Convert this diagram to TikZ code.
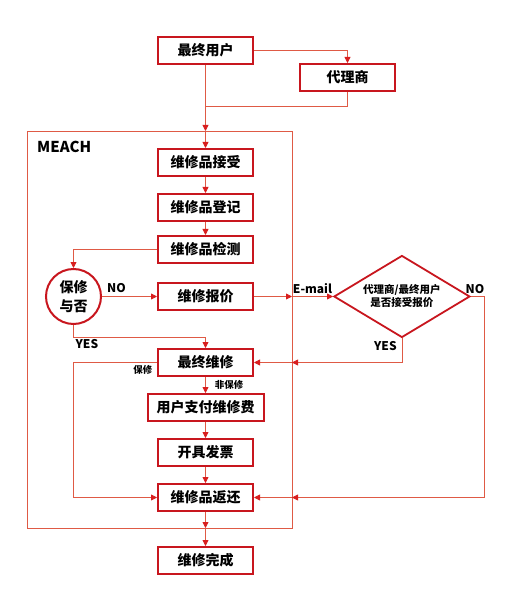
\documentclass[tikz,border=0pt]{standalone}
\usepackage{fontspec}
\setmainfont{Noto Sans CJK SC}
\usepackage{tikz}
\usetikzlibrary{arrows.meta, positioning, shapes.geometric, calc}

\definecolor{boxred}{HTML}{C8161E}
\definecolor{linered}{HTML}{DF5A45}
\definecolor{tipred}{HTML}{D81E1E}

\begin{document}
\begin{tikzpicture}[
    x=1pt, y=1pt,
    node distance=16pt,
    >={Triangle[length=6pt, width=6pt, color=tipred]},
    block/.style={
        rectangle,
        draw=boxred,
        line width=2pt,
        fill=white,
        minimum width=95pt,
        minimum height=27pt,
        inner sep=2pt,
        font=\fontsize{14}{16}\selectfont\bfseries
    },
    check/.style={
        circle,
        draw=boxred,
        line width=2pt,
        fill=white,
        minimum size=55pt,
        inner sep=0pt,
        align=center,
        font=\fontsize{14}{19}\selectfont\bfseries
    },
    choice/.style={
        diamond,
        draw=boxred,
        line width=1.8pt,
        fill=white,
        aspect=1.64,
        minimum width=136pt,
        minimum height=82pt,
        inner sep=1pt,
        align=center,
        font=\fontsize{10.5}{13}\selectfont\bfseries
    },
    frame/.style={
        rectangle,
        draw=linered,
        line width=0.8pt,
        inner sep=0pt,
        outer sep=0pt
    },
    link/.style={draw=linered, line width=0.8pt},
    arr/.style={link, ->},
    tag/.style={font=\fontsize{12}{14}\selectfont\bfseries, inner sep=2pt},
    small/.style={font=\fontsize{9.5}{11}\selectfont\bfseries, inner sep=2pt}
]
\useasboundingbox (0,0) rectangle (511,-609);

% MEACH frame
\node[frame, minimum width=265pt, minimum height=397pt] (meach) at (159.5,-329.5) {};
\node[anchor=base west, inner sep=0pt, font=\fontsize{15}{17}\selectfont\bfseries] (title)
    at ($(meach.north west)+(10pt,-22pt)$) {MEACH};

% Customer side
\node[block] (user) at (205.5,-50.5) {最终用户};
\node[block] (agent) at (347.5,-77.5) {代理商};
\coordinate (join) at (205.5,-106);

% Repair flow
\node[block] (recv) at (205.5,-162.5) {维修品接受};
\node[block, below=16pt of recv] (reg) {维修品登记};
\node[block, below=13pt of reg] (test) {维修品检测};
\node[block, below=18pt of test] (quote) {维修报价};
\node[check, left=55pt of quote] (chk) {保修\\与否};
\node[choice, right=79pt of quote] (dec) {代理商/最终用户\\是否接受报价};
\node[block, below=37pt of quote] (fin) {最终维修};
\node[block, below=16pt of fin, minimum width=116pt] (pay) {用户支付维修费};
\node[block, below=16pt of pay] (inv) {开具发票};
\node[block, below=16pt of inv] (ret) {维修品返还};
\node[block, below=34pt of ret] (done) {维修完成};
\coordinate (yesturn) at ($(chk.south)+(0,-12pt)$);

% Connectors
\draw[arr] (user.east) -| (agent.north);
\draw[link] (agent.south) |- (join);
\draw[arr] (user) -- (user |- meach.north);
\draw[arr] (user |- meach.north) -- (recv);
\draw[arr] (recv) -- (reg);
\draw[arr] (reg) -- (test);
\draw[arr] (test.west) -| (chk.north);
\draw[arr] (chk) -- (quote);
\node[tag, anchor=south west] (no1) at ($(chk.east)+(3pt,2pt)$) {NO};
\draw[arr] (quote) -- (quote -| meach.east);
\draw[arr] (quote -| meach.east) -- node[tag, above] (mail) {E-mail} (dec.west);
\draw[arr] (dec.east) -- node[tag, above, pos=0.3] (no2) {NO} ++(14pt,0) |- (ret -| meach.east);
\draw[arr] (ret -| meach.east) -- (ret);
\draw[arr] (dec.south) |- (fin -| meach.east);
\draw[arr] (fin -| meach.east) -- (fin);
\node[tag, anchor=north east] (yes2) at ($(dec.south)+(-3pt,-1pt)$) {YES};
\draw[arr] (chk.south) |- (fin.north |- yesturn) -- (fin.north);
\node[tag, anchor=north west] (yes1) at (yesturn) {YES};
\draw[arr] (fin.west) -- node[small, below, pos=0.17] (warr) {保修} (fin.west -| chk) |- (ret.west);
\draw[arr] (fin) -- node[small, right, xshift=7pt] (nowarr) {非保修} (pay);
\draw[arr] (pay) -- (inv);
\draw[arr] (inv) -- (ret);
\draw[arr] (ret) -- (ret |- meach.south);
\draw[arr] (ret |- meach.south) -- (done);

\end{tikzpicture}
\end{document}
